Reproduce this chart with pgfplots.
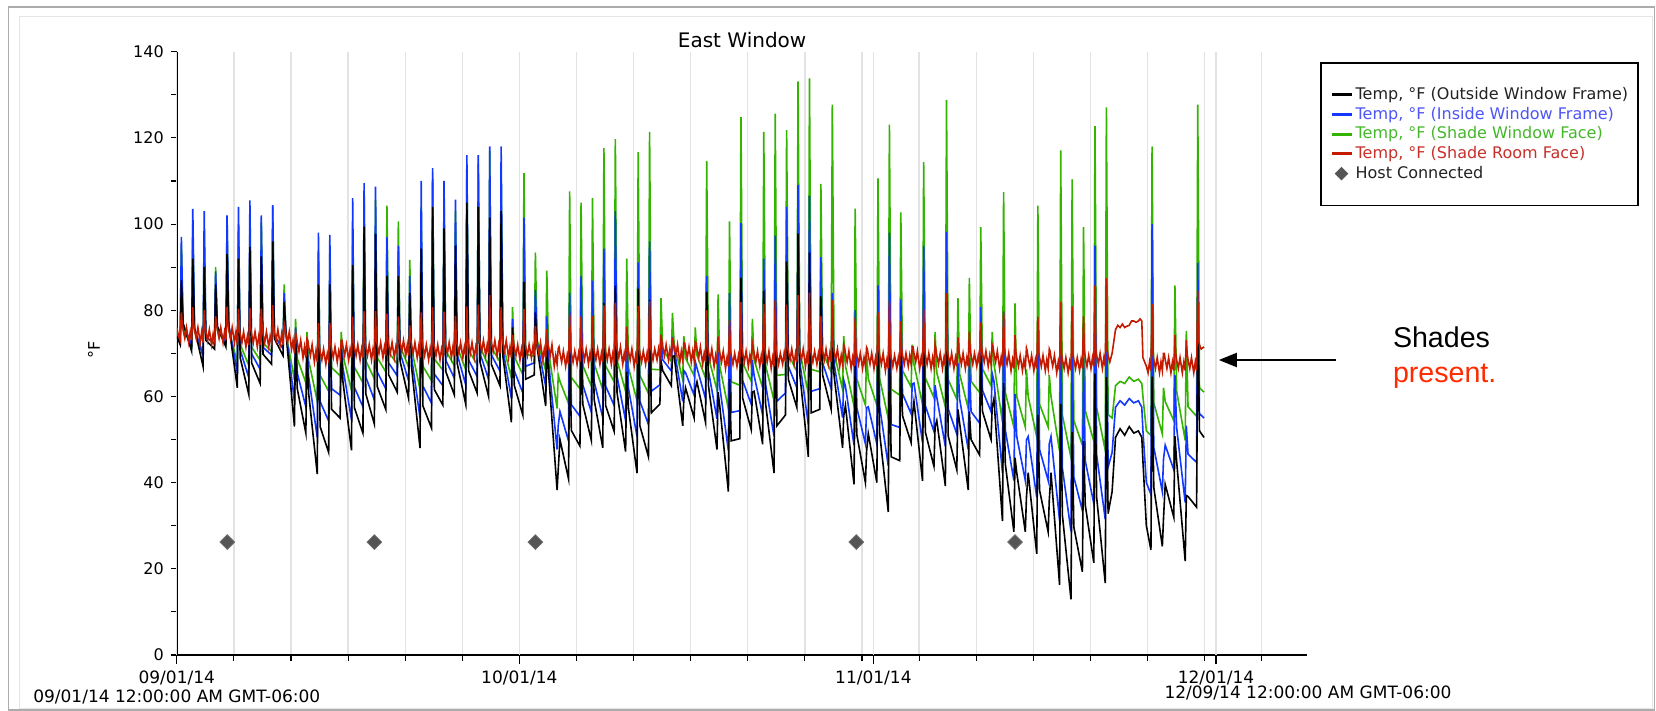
\documentclass[border=0pt]{standalone}
\usepackage{fontspec}
\setmainfont{DejaVu Sans}
\newfontfamily\helv{Liberation Sans}
\usepackage{pgfplots}
\usepackage{pgfplotstable}
\pgfplotsset{compat=1.18}
\usetikzlibrary{arrows.meta}

\definecolor{cK}{HTML}{000000}
\definecolor{cB}{HTML}{1238FF}
\definecolor{cG}{HTML}{33B400}
\definecolor{cR}{HTML}{C41A00}
\definecolor{lK}{HTML}{222222}
\definecolor{lB}{HTML}{4D55F5}
\definecolor{lG}{HTML}{44B82A}
\definecolor{lR}{HTML}{C8302A}
\definecolor{host}{HTML}{555555}
\definecolor{pres}{HTML}{FF2A00}

\pgfplotsset{
  mylineleg/.style={legend image code/.code={\draw[##1] (0pt,0pt) -- (10pt,0pt);}},
  mymarkleg/.style={legend image code/.code={\draw[mark repeat=2, mark phase=2, ##1] plot coordinates {(0pt,0pt) (5pt,0pt) (10pt,0pt)};}},
}

% time (days since 09/01/14)  K=outside frame  B=inside frame  G=shade window face
\pgfplotstableread{
t K B G
0.00 74 74.5 75
0.30 72 73 72.4
0.40 87 97 95
0.55 77 76.8 75.7
1.30 70.5 71.9 71.7
1.40 92 103.5 100
1.55 75.8 75.9 75.1
2.30 67 69.3 70.2
2.40 90 103 98
2.55 73 73.8 73.9
3.30 71 72.3 72
3.40 86 89 90
3.55 76.2 76.2 75.3
4.30 71.5 72.6 72.2
4.40 93 102 101
4.55 76.6 76.5 75.5
5.30 62 65.5 67.9
5.40 92 104 100
5.55 69 70.8 72.1
6.30 60.5 64.4 67.2
6.40 94.7 105.5 100
6.55 67.8 69.9 71.5
7.30 63 66.3 68.4
7.40 92.5 102 100.5
7.55 69.8 71.4 72.4
8.30 67.5 69.6 70.4
8.40 96 104.4 104
8.55 73.4 74 74
9.30 69.5 71.1 71.3
9.40 82 84 86
9.55 75 75.3 74.8
10.30 53 58.8 63.9
10.40 74 76 78
10.55 61.8 65.4 68.8
11.30 51.5 57.6 63.2
11.40 71 73 75
11.55 60.6 64.5 68.3
12.30 42 50.5 58.9
12.40 86 98 94
12.55 53 58.8 64.9
13.30 47 54.3 61.2
13.40 86 97.5 94
13.55 57 61.8 66.7
14.30 55 60.3 64.8
14.40 71 72 75
14.55 63.4 66.6 69.5
15.30 47.5 54.6 61.4
15.40 90.5 106 99
15.55 57.4 62.1 66.8
16.30 51.5 57.6 63.2
16.40 99.4 109.5 107.4
16.55 60.6 64.5 68.3
17.30 53.6 59.2 64.1
17.40 97.7 108.7 105.7
17.55 62.3 65.7 69
18.30 57 61.8 65.7
18.40 88 97 104.3
18.55 65 67.8 70.3
19.30 61 64.8 67.5
19.40 88 95 100.6
19.55 68.2 70.2 71.7
20.30 59.5 63.6 66.8
20.40 84 88 91.7
20.55 67 69.3 71.2
21.30 48 55 61.6
21.40 94.3 110 104
21.55 57.8 62.4 67
22.30 52.7 58.5 63.7
22.40 104 113 112
22.55 61.6 65.2 68.7
23.30 58 62.5 66.1
23.40 99 110 107
23.55 65.8 68.4 70.6
24.30 60.4 64.3 67.2
24.40 95 105.7 103
24.55 67.7 69.8 71.5
25.30 58.2 62.7 66.2
25.40 105 116 113.3
25.55 66 68.5 70.7
26.30 60.8 64.6 67.4
26.40 104 116 114
26.55 68 70 71.6
27.30 60 64 67
27.40 101.5 118 117
27.55 67.4 69.6 71.3
28.30 62.5 65.9 68.1
28.40 103 118 111.6
28.55 69.4 71 72.2
29.30 54 59.5 64.3
29.40 76 78 80.7
29.55 62.6 66 69.2
30.30 55.7 60.8 65.1
30.40 86.6 101.5 111.8
30.55 64 67 69.8
31.30 65 67.8 69.3
31.40 79.5 84.7 93.4
31.55 71.4 72.6 73.1
32.30 57.8 62.4 66
32.40 71.7 78.6 89.2
32.55 65.6 68.2 70.5
33.30 38.3 47.7 57.2
33.40 43 53.2 65
33.55 50 56.5 63.5
34.30 40.9 49.7 58.4
34.40 70.4 84.1 107.6
34.55 52.1 58.1 64.4
35.30 48.5 55.4 61.8
35.40 74.4 88 105
35.55 58.2 62.7 67.2
36.30 49.8 56.4 62.4
36.40 76 86.9 106
36.55 59.2 63.4 67.6
37.30 48.1 55.1 61.6
37.40 81.7 94.3 117.6
37.55 57.9 62.4 67.1
38.30 51.9 57.9 63.4
38.40 85.7 103 119.7
38.55 60.9 64.7 68.4
39.30 47.2 54.4 61.2
39.40 65.7 76 92
39.55 57.2 61.9 66.7
40.30 42.2 50.7 59
40.40 85 91.1 116.7
40.55 53.2 58.9 64.9
41.30 46 53.5 60.7
41.40 82.4 96 121.4
41.55 56.2 61.2 66.3
42.30 58.2 62.7 66.2
42.40 68.2 74.3 82.8
42.55 66 68.5 70.7
43.30 62.5 65.9 68.1
43.40 69.3 73.8 79.4
43.55 69.4 71 72.2
44.30 53.2 58.9 63.9
44.40 59.3 66 74
44.55 62 65.5 68.9
45.30 55 60.3 64.8
45.40 61.7 68.1 76
45.55 63.4 66.6 69.5
46.30 54 59.5 64.3
46.40 84.2 88 114.6
46.55 62.6 66 69.2
47.30 47.7 54.8 61.5
47.40 61 70.3 83.7
47.55 57.6 62.2 66.9
48.30 37.9 47.4 57.1
48.40 64 84 100.6
48.55 49.7 56.3 63.4
49.30 50.2 56.7 62.6
49.40 87.5 100.2 124.8
49.55 59.6 63.7 67.8
50.30 52.3 58.2 63.5
50.40 61 68.4 78
50.55 61.2 64.9 68.5
51.30 48.9 55.7 62
51.40 84.5 92 121.4
51.55 58.5 62.9 67.3
52.30 42.2 50.7 59
52.40 82.2 97.3 125.6
52.55 53.2 58.9 64.9
53.30 55.7 60.8 65.1
53.40 91.3 104 121.8
53.55 64 67 69.8
54.30 57.4 62 65.8
54.40 97.8 109.1 133.1
54.55 65.3 68 70.4
55.30 46 53.5 60.7
55.40 93.4 106.5 133.8
55.55 56.2 61.2 66.3
56.30 57 61.8 65.7
56.40 83.2 92.3 109.3
56.55 65 67.8 70.3
57.30 57 61.8 65.7
57.40 75 84 127.7
57.55 65 67.8 70.3
58.30 48.1 55.1 61.6
58.40 55.5 63.8 74
58.55 57.9 62.4 67.1
59.30 39.6 48.7 57.8
59.40 67.1 80 103.6
59.55 51.1 57.3 64
60.30 40 49 58
60.40 47.2 57.4 70
60.55 51.4 57.6 64.1
61.30 40 49 58
61.40 71.6 85.8 110.6
61.55 51.4 57.6 64.1
62.30 33.2 43.9 54.9
62.40 74.1 98 123.1
62.55 46 53.5 61.7
63.30 45.1 52.8 60.3
63.40 70.5 82.5 102.7
63.55 55.5 60.6 66
64.30 49.3 56 62.2
64.40 55.2 62.9 72
64.55 58.8 63.1 67.5
65.30 40.4 49.3 58.2
65.40 74.1 95 114.4
65.55 51.7 57.8 64.3
66.30 43.8 51.9 59.7
66.40 53 62.6 75
66.55 54.4 59.8 65.5
67.30 39.2 48.4 57.6
67.40 81.9 98.2 128.8
67.55 50.8 57.1 63.9
68.30 43 51.3 59.4
68.40 57 67.7 82.8
68.55 53.8 59.4 65.2
69.30 38.3 47.7 57.2
69.40 56.5 68.9 87.5
69.55 50 56.5 63.5
70.30 46.4 53.8 60.9
70.40 69.4 80.7 99.3
70.55 56.5 61.4 66.4
71.30 50 56.5 62.5
71.40 57.5 65.3 75
71.55 59.4 63.6 67.7
72.30 31.1 42.3 54
72.40 63.1 79.7 107.4
72.55 44.3 52.2 60.9
73.30 28.6 40.5 52.9
73.40 45.8 60.6 81.6
73.55 42.3 50.7 60
74.30 28.6 40.5 52.9
74.40 36.6 49.9 66.3
74.55 42.3 50.7 60
75.30 23.5 36.6 50.6
75.40 55.7 74.2 104.3
75.55 38.2 47.7 58.2
76.30 28.6 40.5 52.9
76.40 35.9 49 65
76.55 42.3 50.7 60
77.30 16.3 31.2 47.3
77.40 58.2 78 117.1
77.55 32.4 43.3 55.6
78.30 12.9 28.7 45.8
78.40 51.7 73.9 110.4
78.55 29.7 41.3 54.4
79.30 19.3 33.5 48.7
79.40 49.7 68.9 99.3
79.55 34.8 45.1 56.7
80.30 21.4 35.1 49.6
80.40 65.3 95 122.7
80.55 36.5 46.4 57.4
81.30 16.7 31.5 47.5
81.40 64.5 87.2 127.1
81.55 32.8 43.6 55.8
81.90 37.9 47 55
82.20 50.5 57.5 62.5
82.60 52.5 59 63.5
83.00 51 58 63
83.40 53 59.5 64.5
83.80 51.5 58.5 63.5
84.20 52 59 64
84.50 50.5 57.5 63
84.60 45 52 60
84.90 30 40 52
85.30 24.4 37.3 51
85.40 64.6 100 118
85.55 38.9 48.2 58.5
86.30 25.2 37.9 51.3
86.40 31.6 45.4 62
86.55 39.6 48.7 58.8
87.30 32 43 54.4
87.40 50.8 65 85.8
87.55 45 52.8 61.3
88.30 21.8 35.4 49.8
88.40 37 53.2 75.2
88.55 36.8 46.6 57.6
89.30 34.3 44.7 55.4
89.40 77.7 91 127.7
89.55 52 56 62
89.95 50.5 55 61
}\wdata

\begin{document}
\begin{tikzpicture}
\path[use as bounding box, fill=white] (0,0) rectangle (828pt,-355.5pt);
\draw[gray!20, line width=0.5pt] (9.5pt,-8.5pt) rectangle (826pt,-354pt);
\draw[gray!65, line width=0.8pt] (4.2pt,-3.4pt) rectangle (827.3pt,-355pt);

\begin{axis}[
  at={(88.4pt,-327.5pt)}, anchor=south west,
  scale only axis, width=565.3pt, height=301.65pt,
  xmin=0, xmax=99, ymin=0, ymax=140,
  axis x line*=bottom, axis y line*=left,
  axis line style={-, line width=0.85pt, black},
  tick align=outside,
  xtick={5,10,...,25,35,40,...,60,65,70,...,95},
  xticklabels={},
  extra x ticks={0,30,61,91},
  extra x tick labels={{09/01/14\\09/01/14 12:00:00 AM GMT-06:00},10/01/14,11/01/14,12/01/14},
  extra x tick style={major tick length=4.5pt, grid=major},
  xmajorgrids=true,
  major grid style={draw=gray!22, line width=0.65pt},
  ytick={0,20,...,140}, minor y tick num=1,
  major tick length=3pt, minor tick length=2.7pt,
  tick style={black, line width=0.55pt},
  yticklabel style={font=\fontsize{8}{9.6}\selectfont},
  xticklabel style={font=\fontsize{8.5}{9.35}\selectfont, align=center},
  /pgf/number format/assume math mode=true,
  title={East Window},
  title style={font=\fontsize{10}{12}\selectfont, at={(0.5,1)}, anchor=base, yshift=-3.7pt},
  legend cell align=left,
  legend style={at={(1.0111,0.9829)}, anchor=north west, draw=black, line width=0.9pt,
    inner xsep=4.6pt, inner ysep=11.5pt, row sep=0.95pt,
    font=\fontsize{8}{9.6}\selectfont,
    nodes={inner sep=0.5pt, text height=6.2pt, text depth=1.7pt},
    /tikz/every odd column/.append style={column sep=0.8pt}},
]
\addlegendimage{cK, line width=1.5pt, mylineleg}
\addlegendentry{\textcolor{lK}{Temp, °F (Outside Window Frame)}}
\addlegendimage{cB, line width=1.5pt, mylineleg}
\addlegendentry{\textcolor{lB}{Temp, °F (Inside Window Frame)}}
\addlegendimage{cG, line width=1.5pt, mylineleg}
\addlegendentry{\textcolor{lG}{Temp, °F (Shade Window Face)}}
\addlegendimage{cR, line width=1.5pt, mylineleg}
\addlegendentry{\textcolor{lR}{Temp, °F (Shade Room Face)}}
\addlegendimage{only marks, mark=square*, mark size=2.2pt, mark options={rotate=45, fill=host, draw=host, line width=0.4pt}, mymarkleg}
\addlegendentry{\textcolor{lK}{Host Connected}}

\addplot[cG, line width=0.8pt, forget plot] table[x=t, y=G] {\wdata};
\addplot[cB, line width=0.8pt, forget plot] table[x=t, y=B] {\wdata};
\addplot[cK, line width=0.8pt, forget plot] table[x=t, y=K] {\wdata};
% Shade Room Face
\addplot[cR, line width=0.8pt, forget plot] coordinates {
(0.00,76) (0.15,74)
(0.30,73) (0.40,79.5) (0.47,77) (0.55,75.5) (0.70,73.5) (0.85,76) (1.05,72.5) (1.18,75)
(1.30,73) (1.40,80.7) (1.47,77) (1.55,75.5) (1.70,73.5) (1.85,76) (2.05,72.5) (2.18,75)
(2.30,72.5) (2.40,80.1) (2.47,76.5) (2.55,75) (2.70,73) (2.85,75.5) (3.05,72) (3.18,74.5)
(3.30,73) (3.40,78.6) (3.47,77) (3.55,75.5) (3.70,73.5) (3.85,76) (4.05,72.5) (4.18,75)
(4.30,73) (4.40,80.8) (4.47,77) (4.55,75.5) (4.70,73.5) (4.85,76) (5.05,72.5) (5.18,75)
(5.30,72) (5.40,80.4) (5.47,76) (5.55,74.5) (5.70,72.5) (5.85,75) (6.05,71.5) (6.18,74)
(6.30,72) (6.40,80.6) (6.47,76) (6.55,74.5) (6.70,72.5) (6.85,75) (7.05,71.5) (7.18,74)
(7.30,72) (7.40,80.4) (7.47,76) (7.55,74.5) (7.70,72.5) (7.85,75) (8.05,71.5) (8.18,74)
(8.30,72.5) (8.40,81.2) (8.47,76.5) (8.55,75) (8.70,73) (8.85,75.5) (9.05,72) (9.18,74.5)
(9.30,72) (9.40,76.9) (9.47,76) (9.55,74.5) (9.70,72.5) (9.85,75) (10.05,71) (10.18,73)
(10.30,70) (10.40,74.8) (10.47,74) (10.55,72.5) (10.70,70.5) (10.85,73) (11.05,69) (11.18,71.5)
(11.30,69) (11.40,73.4) (11.47,73) (11.55,71.5) (11.70,69.5) (11.85,72) (12.05,68) (12.18,70.5)
(12.30,68) (12.40,77) (12.47,72) (12.55,70.5) (12.70,68.5) (12.85,71) (13.05,67.5) (13.18,70)
(13.30,68.5) (13.40,77.1) (13.47,72.5) (13.55,71) (13.70,69) (13.85,71.5) (14.05,68) (14.18,70.5)
(14.30,69) (14.40,73) (14.47,73) (14.55,71.5) (14.70,69.5) (14.85,72) (15.05,68.5) (15.18,71)
(15.30,69) (15.40,78.5) (15.47,73) (15.55,71.5) (15.70,69.5) (15.85,72) (16.05,68.5) (16.18,71)
(16.30,69) (16.40,79.8) (16.47,73) (16.55,71.5) (16.70,69.5) (16.85,72) (17.05,68.5) (17.18,71)
(17.30,69.5) (17.40,79.8) (17.47,73.5) (17.55,72) (17.70,70) (17.85,72.5) (18.05,69) (18.18,71.5)
(18.30,69.5) (18.40,79.2) (18.47,73.5) (18.55,72) (18.70,70) (18.85,72.5) (19.05,69) (19.18,71.5)
(19.30,70) (19.40,78.6) (19.47,74) (19.55,72.5) (19.70,70.5) (19.85,73) (20.05,69.5) (20.18,72)
(20.30,69.5) (20.40,76.5) (20.47,73.5) (20.55,72) (20.70,70) (20.85,72.5) (21.05,69) (21.18,71.5)
(21.30,69) (21.40,79.5) (21.47,73) (21.55,71.5) (21.70,69.5) (21.85,72) (22.05,68.5) (22.18,71)
(22.30,69) (22.40,80.7) (22.47,73) (22.55,71.5) (22.70,69.5) (22.85,72) (23.05,68.5) (23.18,71)
(23.30,69.5) (23.40,79.7) (23.47,73.5) (23.55,72) (23.70,70) (23.85,72.5) (24.05,69) (24.18,71.5)
(24.30,69.5) (24.40,78.7) (24.47,73.5) (24.55,72) (24.70,70) (24.85,72.5) (25.05,69) (25.18,71.5)
(25.30,69.5) (25.40,80.9) (25.47,73.5) (25.55,72) (25.70,70) (25.85,72.5) (26.05,69) (26.18,71.5)
(26.30,70) (26.40,81.3) (26.47,74) (26.55,72.5) (26.70,70.5) (26.85,73) (27.05,69.5) (27.18,72)
(27.30,70) (27.40,83.5) (27.47,74) (27.55,72.5) (27.70,70.5) (27.85,73) (28.05,69.5) (28.18,72)
(28.30,70) (28.40,80.7) (28.47,74) (28.55,72.5) (28.70,70.5) (28.85,73) (29.05,69) (29.18,71.5)
(29.30,69) (29.40,74.3) (29.47,73) (29.55,71.5) (29.70,69.5) (29.85,72) (30.05,68.5) (30.18,71)
(30.30,69) (30.40,80.3) (30.47,73) (30.55,71.5) (30.70,69.5) (30.85,72) (31.05,69) (31.18,71.5)
(31.30,69.5) (31.40,76.3) (31.47,73.5) (31.55,72) (31.70,70) (31.85,72.5) (32.05,68.5) (32.18,71)
(32.30,69) (32.40,75.6) (32.47,73) (32.55,71.5) (32.70,69.5) (32.85,72) (33.05,67) (33.18,69.5)
(33.30,67.5) (33.40,71.1) (33.47,71.5) (33.55,70) (33.70,68) (33.85,70.5) (34.05,67) (34.18,69.5)
(34.30,67.5) (34.40,79.3) (34.47,71.5) (34.55,70) (34.70,68) (34.85,70.5) (35.05,67.5) (35.18,70)
(35.30,68) (35.40,78.6) (35.47,72) (35.55,70.5) (35.70,68.5) (35.85,71) (36.05,67.5) (36.18,70)
(36.30,68) (36.40,78.7) (36.47,72) (36.55,70.5) (36.70,68.5) (36.85,71) (37.05,67.5) (37.18,70)
(37.30,68) (37.40,81.2) (37.47,72) (37.55,70.5) (37.70,68.5) (37.85,71) (38.05,67.5) (38.18,70)
(38.30,68.5) (38.40,81.8) (38.47,72.5) (38.55,71) (38.70,69) (38.85,71.5) (39.05,67.5) (39.18,70)
(39.30,68) (39.40,76.2) (39.47,72) (39.55,70.5) (39.70,68.5) (39.85,71) (40.05,67) (40.18,69.5)
(40.30,67.5) (40.40,81) (40.47,71.5) (40.55,70) (40.70,68) (40.85,70.5) (41.05,67.5) (41.18,70)
(41.30,68) (41.40,82.1) (41.47,72) (41.55,70.5) (41.70,68.5) (41.85,71) (42.05,68.5) (42.18,71)
(42.30,69) (42.40,74.3) (42.47,73) (42.55,71.5) (42.70,69.5) (42.85,72) (43.05,68.5) (43.18,71)
(43.30,69) (43.40,73.3) (43.47,73) (43.55,71.5) (43.70,69.5) (43.85,72) (44.05,68) (44.18,70.5)
(44.30,68.5) (44.40,72.5) (44.47,72.5) (44.55,71) (44.70,69) (44.85,71.5) (45.05,68) (45.18,70.5)
(45.30,68.5) (45.40,72.7) (45.47,72.5) (45.55,71) (45.70,69) (45.85,71.5) (46.05,67.5) (46.18,70)
(46.30,68) (46.40,80) (46.47,72) (46.55,70.5) (46.70,68.5) (46.85,71) (47.05,67) (47.18,69.5)
(47.30,67.5) (47.40,73.9) (47.47,71.5) (47.55,70) (47.70,68) (47.85,70.5) (48.05,66.5) (48.18,69)
(48.30,67) (48.40,77.7) (48.47,71) (48.55,69.5) (48.70,67.5) (48.85,70) (49.05,67) (49.18,69.5)
(49.30,67.5) (49.40,81.9) (49.47,71.5) (49.55,70) (49.70,68) (49.85,70.5) (50.05,67) (50.18,69.5)
(50.30,67.5) (50.40,72.4) (50.47,71.5) (50.55,70) (50.70,68) (50.85,70.5) (51.05,67) (51.18,69.5)
(51.30,67.5) (51.40,81.4) (51.47,71.5) (51.55,70) (51.70,68) (51.85,70.5) (52.05,66.5) (52.18,69)
(52.30,67) (52.40,82.3) (52.47,71) (52.55,69.5) (52.70,67.5) (52.85,70) (53.05,67.5) (53.18,70)
(53.30,68) (53.40,81.3) (53.47,72) (53.55,70.5) (53.70,68.5) (53.85,71) (54.05,67.5) (54.18,70)
(54.30,68) (54.40,83.5) (54.47,72) (54.55,70.5) (54.70,68.5) (54.85,71) (55.05,67) (55.18,69.5)
(55.30,67.5) (55.40,84.1) (55.47,71.5) (55.55,70) (55.70,68) (55.85,70.5) (56.05,67.5) (56.18,70)
(56.30,68) (56.40,78.7) (56.47,72) (56.55,70.5) (56.70,68.5) (56.85,71) (57.05,67.5) (57.18,70)
(57.30,68) (57.40,82.4) (57.47,72) (57.55,70.5) (57.70,68.5) (57.85,71) (58.05,67) (58.18,69.5)
(58.30,67.5) (58.40,72) (58.47,71.5) (58.55,70) (58.70,68) (58.85,70.5) (59.05,66.5) (59.18,69)
(59.30,67) (59.40,78.2) (59.47,71) (59.55,69.5) (59.70,67.5) (59.85,70) (60.05,66.5) (60.18,69)
(60.30,67) (60.40,71.4) (60.47,71) (60.55,69.5) (60.70,67.5) (60.85,70) (61.05,66.5) (61.18,69)
(61.30,67) (61.40,79.5) (61.47,71) (61.55,69.5) (61.70,67.5) (61.85,70) (62.05,66) (62.18,68.5)
(62.30,66.5) (62.40,82.1) (62.47,70.5) (62.55,69) (62.70,67) (62.85,69.5) (63.05,66.5) (63.18,69)
(63.30,67) (63.40,77.5) (63.47,71) (63.55,69.5) (63.70,67.5) (63.85,70) (64.05,67) (64.18,69.5)
(64.30,67.5) (64.40,71.5) (64.47,71.5) (64.55,70) (64.70,68) (64.85,70.5) (65.05,66.5) (65.18,69)
(65.30,67) (65.40,80.2) (65.47,71) (65.55,69.5) (65.70,67.5) (65.85,70) (66.05,66.5) (66.18,69)
(66.30,67) (66.40,72.1) (66.47,71) (66.55,69.5) (66.70,67.5) (66.85,70) (67.05,66.5) (67.18,69)
(67.30,67) (67.40,84) (67.47,71) (67.55,69.5) (67.70,67.5) (67.85,70) (68.05,66.5) (68.18,69)
(68.30,67) (68.40,73.7) (68.47,71) (68.55,69.5) (68.70,67.5) (68.85,70) (69.05,66.5) (69.18,69)
(69.30,67) (69.40,75.1) (69.47,71) (69.55,69.5) (69.70,67.5) (69.85,70) (70.05,67) (70.18,69.5)
(70.30,67.5) (70.40,77.2) (70.47,71.5) (70.55,70) (70.70,68) (70.85,70.5) (71.05,67) (71.18,69.5)
(71.30,67.5) (71.40,72) (71.47,71.5) (71.55,70) (71.70,68) (71.85,70.5) (72.05,66.5) (72.18,69)
(72.30,67) (72.40,79.7) (72.47,71) (72.55,69.5) (72.70,67.5) (72.85,70) (73.05,66) (73.18,68.5)
(73.30,66.5) (73.40,74.2) (73.47,70.5) (73.55,69) (73.70,67) (73.85,69.5) (74.05,66) (74.18,68.5)
(74.30,66.5) (74.40,71.2) (74.47,70.5) (74.55,69) (74.70,67) (74.85,69.5) (75.05,66) (75.18,68.5)
(75.30,66.5) (75.40,78.5) (75.47,70.5) (75.55,69) (75.70,67) (75.85,69.5) (76.05,66) (76.18,68.5)
(76.30,66.5) (76.40,71) (76.47,70.5) (76.55,69) (76.70,67) (76.85,69.5) (77.05,65.5) (77.18,68)
(77.30,66) (77.40,82) (77.47,70) (77.55,68.5) (77.70,66.5) (77.85,69) (78.05,65.5) (78.18,68)
(78.30,66) (78.40,80.9) (78.47,70) (78.55,68.5) (78.70,66.5) (78.85,69) (79.05,66) (79.18,68.5)
(79.30,66.5) (79.40,78.6) (79.47,70.5) (79.55,69) (79.70,67) (79.85,69.5) (80.05,66.5) (80.18,69)
(80.30,67) (80.40,85.8) (80.47,71) (80.55,69.5) (80.70,67.5) (80.85,70) (81.05,66.5) (81.18,69)
(81.30,67) (81.40,87.5) (81.47,71) (81.55,69.5) (81.70,68) (81.90,70)
(82.20,75.5) (82.40,76.5) (82.60,76) (82.80,76.8) (83.00,76) (83.20,76.3) (83.40,76.5) (83.60,77.5)
(83.80,77.5) (84.00,77.2) (84.20,77.5) (84.35,78) (84.50,77.5) (84.60,69) (84.75,68) (84.90,67) (85.05,65.5) (85.18,68)
(85.30,66) (85.40,81.4) (85.47,70) (85.55,68.5) (85.70,66.5) (85.85,69) (86.05,65.5) (86.18,68)
(86.30,66) (86.40,70) (86.47,70) (86.55,68.5) (86.70,66.5) (86.85,69) (87.05,65.5) (87.18,68)
(87.30,66) (87.40,74.3) (87.47,70) (87.55,68.5) (87.70,66.5) (87.85,69) (88.05,65.5) (88.18,68)
(88.30,66) (88.40,73.1) (88.47,70) (88.55,68.5) (88.70,66.5) (88.85,69) (89.05,65.5) (89.18,68)
(89.30,66) (89.40,84.5) (89.47,73) (89.55,72) (89.70,71) (89.95,71.5)
};
\addplot[only marks, mark=square*, mark size=2.6pt, mark options={rotate=45, fill=host, draw=host!85, line width=0.4pt}, forget plot]
  coordinates {(4.42,26.2) (17.3,26.2) (31.4,26.2) (59.5,26.2) (73.4,26.2)};
\end{axis}

\node[rotate=90, inner sep=0pt, font=\fontsize{8}{9.6}\selectfont] at (47pt,-175pt) {°F};
\node[inner sep=0pt, font=\fontsize{8.5}{9.35}\selectfont] at (654pt,-346.35pt) {12/09/14 12:00:00 AM GMT-06:00};
\node[anchor=base west, inner sep=0pt, font=\helv\fontsize{14.3}{17}\selectfont] at (696.3pt,-174pt) {Shades};
\node[anchor=base west, inner sep=0pt, text=pres, font=\helv\fontsize{14.3}{17}\selectfont] at (696.3pt,-191.5pt) {present.};
\draw[line width=1pt, -{Triangle[length=9pt, width=7pt]}] (667.9pt,-180pt) -- (609.4pt,-180pt);
\end{tikzpicture}
\end{document}
